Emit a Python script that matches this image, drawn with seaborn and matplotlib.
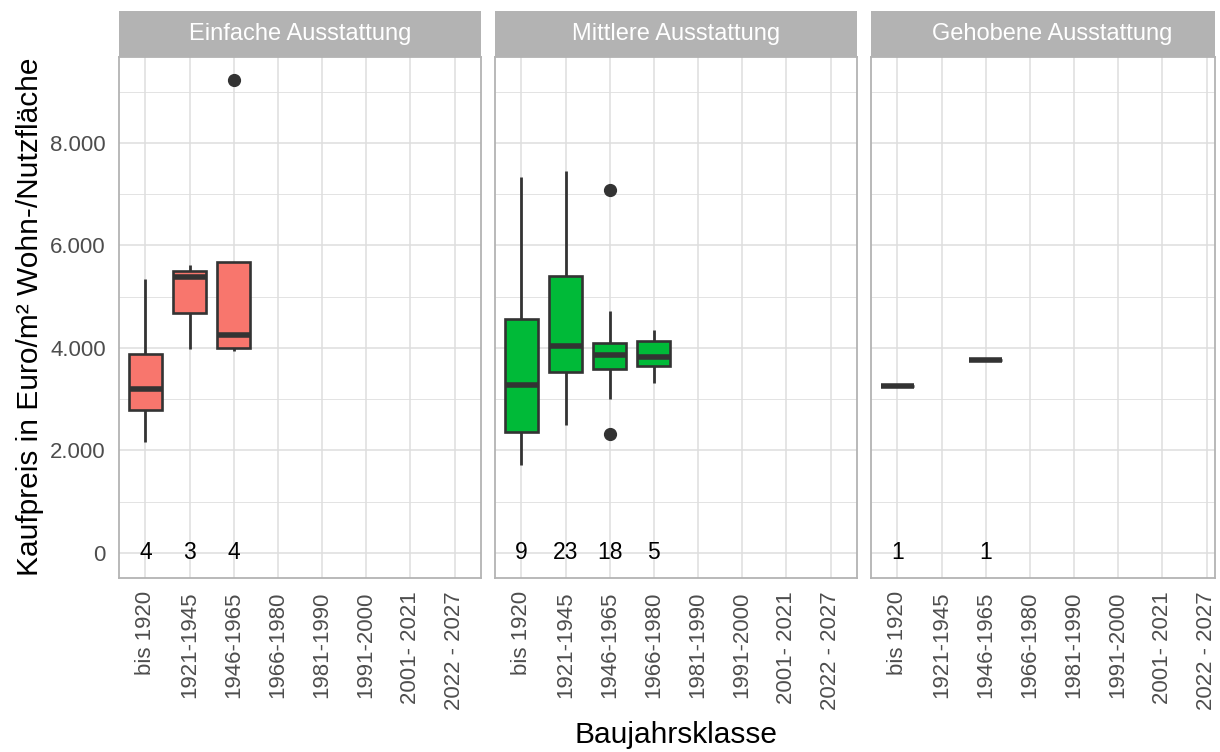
import numpy as np
import pandas as pd
import matplotlib
matplotlib.use("Agg")
import matplotlib.pyplot as plt
from matplotlib.ticker import FuncFormatter, MultipleLocator
import seaborn as sns

# Baujahrsklassen (x-axis categories, shared by all facets)
klassen = ["bis 1920", "1921-1945", "1946-1965", "1966-1980",
           "1981-1990", "1991-2000", "2001- 2021", "2022 - 2027"]

ausstattungen = ["Einfache Ausstattung", "Mittlere Ausstattung", "Gehobene Ausstattung"]
farben = ["#F8766D", "#00BA38", "#619CFF"]

# Kaufpreise in Euro/m² je Ausstattung und Baujahrsklasse
einfach_bis1920 = [2170, 2990, 3400, 5350]
einfach_1921_1945 = [3980, 5380, 5620]
einfach_1946_1965 = [3950, 4005, 4490, 9230]

mittel_bis1920 = [1710, 2100, 2370, 2900, 3270, 3900, 4560, 6000, 7340]
mittel_1921_1945 = [2500, 2750, 2980, 3200, 3400, 3500, 3545, 3650, 3760, 3870,
                    3950, 4035, 4150, 4400, 4700, 5000, 5360, 5440, 5700, 6000,
                    6400, 6900, 7460]
mittel_1946_1965 = [2320, 3010, 3300, 3450, 3580, 3612, 3700, 3780, 3840, 3890,
                    3950, 4020, 4080, 4110, 4200, 4400, 4730, 7090]
mittel_1966_1980 = [3325, 3655, 3830, 4135, 4360]

gehoben_bis1920 = [3260]
gehoben_1946_1965 = [3770]

gruppen = [
    ("Einfache Ausstattung", "bis 1920", einfach_bis1920),
    ("Einfache Ausstattung", "1921-1945", einfach_1921_1945),
    ("Einfache Ausstattung", "1946-1965", einfach_1946_1965),
    ("Mittlere Ausstattung", "bis 1920", mittel_bis1920),
    ("Mittlere Ausstattung", "1921-1945", mittel_1921_1945),
    ("Mittlere Ausstattung", "1946-1965", mittel_1946_1965),
    ("Mittlere Ausstattung", "1966-1980", mittel_1966_1980),
    ("Gehobene Ausstattung", "bis 1920", gehoben_bis1920),
    ("Gehobene Ausstattung", "1946-1965", gehoben_1946_1965),
]

df = pd.DataFrame(
    [(a, k, v) for a, k, werte in gruppen for v in werte],
    columns=["Ausstattung", "Baujahrsklasse", "Kaufpreis"],
)

sns.set_style("white")
plt.rcParams["font.family"] = ["Liberation Sans", "DejaVu Sans"]

W, H = 1220, 752
fig = plt.figure(figsize=(W / 100, H / 100), dpi=100)

def rect(x0, y0, x1, y1):
    return [x0 / W, 1 - y1 / H, (x1 - x0) / W, (y1 - y0) / H]

panel_x = [(119, 481), (495, 857), (871, 1215)]
panel_w = 481 - 119
top, bottom = 57, 578
strip_top = 11
px_per_unit = panel_w / 8.2

grau70 = "#B3B3B3"
grau87 = "#DEDEDE"
grau30 = "#4D4D4D"
dunkel = "#333333"

fmt = FuncFormatter(lambda v, p: f"{int(round(v)):,}".replace(",", "."))

for i, (name, farbe, (x0, x1)) in enumerate(zip(ausstattungen, farben, panel_x)):
    ax = fig.add_axes(rect(x0, top, x1, bottom))
    sub = df[df["Ausstattung"] == name]
    sns.boxplot(
        data=sub, x="Baujahrsklasse", y="Kaufpreis", order=klassen,
        color=farbe, saturation=1, width=0.75, linecolor=dunkel, linewidth=1.9,
        showcaps=False, ax=ax,
        boxprops=dict(edgecolor=dunkel, linewidth=1.9),
        whiskerprops=dict(color=dunkel, linewidth=2.0),
        medianprops=dict(color=dunkel, linewidth=4),
        flierprops=dict(marker="o", markerfacecolor=dunkel, markeredgecolor=dunkel,
                        markersize=8.5),
    )
    # Fallzahlen je Klasse auf Höhe 0
    counts = sub.groupby("Baujahrsklasse").size()
    for j, k in enumerate(klassen):
        if k in counts.index:
            ax.text(j, 0, str(counts[k]), ha="center", va="center",
                    fontsize=16.5, color="black", zorder=5)

    right = -0.6 + (x1 - x0) / px_per_unit
    ax.set_xlim(-0.6, right)
    ax.set_ylim(-488, 9678)
    ax.yaxis.set_major_locator(MultipleLocator(2000))
    ax.yaxis.set_minor_locator(MultipleLocator(1000))
    ax.set_axisbelow(True)
    ax.grid(True, which="major", color=grau87, linewidth=1.1)
    ax.grid(True, which="minor", axis="y", color=grau87, linewidth=0.6)
    for s in ax.spines.values():
        s.set_color(grau70)
        s.set_linewidth(1.3)
    ax.set_xlabel("")
    ax.set_ylabel("")
    ax.tick_params(axis="x", which="major", length=6, width=1, color=grau70,
                   pad=3.5, labelsize=16, labelcolor=grau30, labelrotation=90)
    ax.tick_params(axis="y", which="minor", length=0)
    if i == 0:
        ax.yaxis.set_major_formatter(fmt)
        ax.tick_params(axis="y", which="major", length=6, width=1, color=grau70,
                       pad=3.5, labelsize=16, labelcolor=grau30)
    else:
        ax.tick_params(axis="y", which="major", length=0, labelleft=False)

    # Facettenkopf, Titel mittig über der vollen Facettenbreite
    sax = fig.add_axes(rect(x0, strip_top, x1, top))
    sax.set_facecolor(grau70)
    sax.set_xticks([])
    sax.set_yticks([])
    for s in sax.spines.values():
        s.set_visible(False)
    sax.text(0.5 * panel_w / (x1 - x0), 0.5, name,
             transform=sax.transAxes, ha="center", va="center",
             fontsize=17, color="white")

fig.text(30 / W, 1 - 317 / H, "Kaufpreis in Euro/m² Wohn-/Nutzfläche",
         rotation=90, ha="center", va="center", fontsize=21.5, color="black")
fig.text(676 / W, 1 - 735 / H, "Baujahrsklasse",
         ha="center", va="center", fontsize=21.5, color="black")

fig.savefig("out.png", dpi=100, facecolor="white")
